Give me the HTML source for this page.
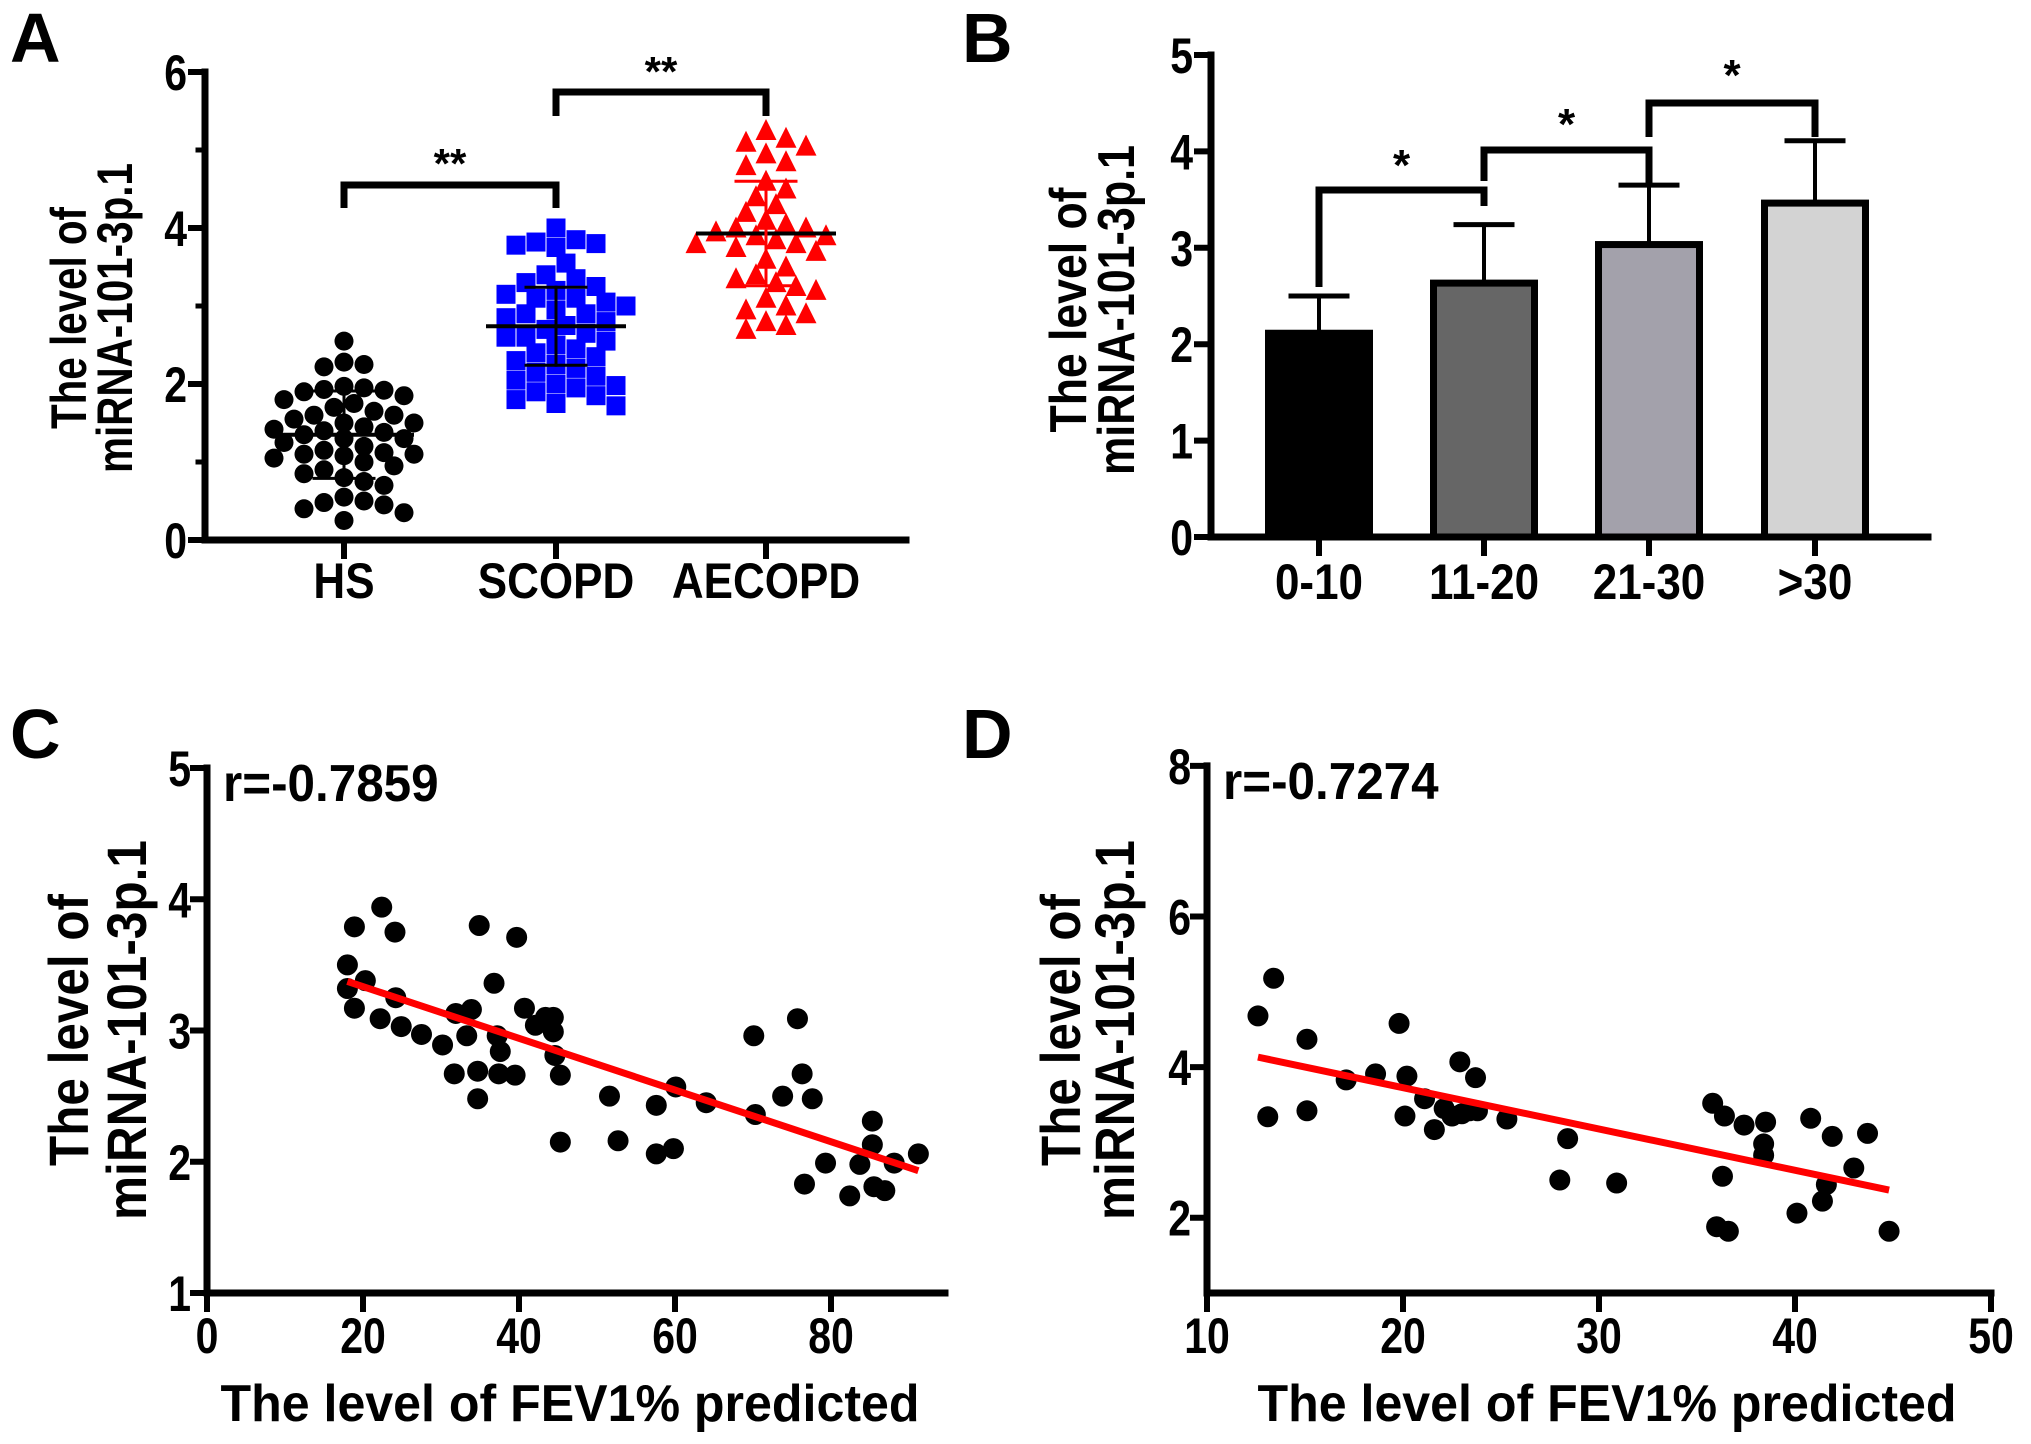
<!DOCTYPE html>
<html><head><meta charset="utf-8"><style>
html,body{margin:0;padding:0;background:#fff;}
svg{display:block;}
text{font-family:"Liberation Sans",Arial,sans-serif;font-weight:bold;fill:#000;}
</style></head>
<body>
<svg id="fig" xmlns="http://www.w3.org/2000/svg" width="2031" height="1444" viewBox="0 0 2031 1444">
<rect width="2031" height="1444" fill="#fff"/>
<text x="10" y="62" font-size="70">A</text>
<text x="962" y="62" font-size="70">B</text>
<text x="10" y="758" font-size="70">C</text>
<text x="962" y="758" font-size="70">D</text>
</svg>
<script>
// ---------- Panel A data ----------
const aCategories = ['HS','SCOPD','AECOPD'];
const aHS = [2.55,2.28,2.25,2.22,1.97,1.95,1.93,1.92,1.9,1.85,1.8,1.75,1.7,1.65,1.6,1.55,1.5,1.45,1.42,1.4,1.38,1.35,1.3,1.25,1.2,1.15,1.12,1.1,1.08,1.05,1.0,0.95,0.9,0.85,0.8,0.75,0.7,0.55,0.5,0.48,0.45,0.4,0.35,0.25,1.5,1.3,1.1,1.6];
const aSCOPD = [4.0,3.85,3.82,3.8,3.78,3.75,3.55,3.4,3.35,3.3,3.25,3.2,3.15,3.1,3.05,3.0,2.95,2.9,2.85,2.8,2.75,2.7,2.65,2.6,2.55,2.5,2.45,2.4,2.35,2.3,2.25,2.2,2.15,2.1,2.05,2.0,1.98,1.95,1.9,1.85,1.8,1.75,1.72,2.9,3.1,2.6];
const aAECOPD = [5.25,5.15,5.1,5.05,4.95,4.85,4.8,4.6,4.5,4.4,4.3,4.2,4.1,4.05,4.0,3.95,3.9,3.85,3.8,3.75,3.7,3.6,3.5,3.4,3.35,3.3,3.25,3.2,3.1,3.0,2.95,2.9,2.8,2.75,2.7,3.9,4.0,3.8];
const aMean = [1.35,2.74,3.93];
const aSD = [0.56,0.5,0.67];
const aTicks = [0,2,4,6];
// ---------- Panel B data ----------
const bCategories = ['0-10','11-20','21-30','>30'];
const bValues = [2.15,2.67,3.07,3.5];
const bErrors = [0.35,0.57,0.58,0.61];
const bTicks = [0,1,2,3,4,5];
// ---------- Panel C data ----------
const cX = [18.0,18.9,22.4,24.1,18.0,20.3,18.9,24.2,22.2,24.9,27.5,30.2,31.9,33.9,33.3,31.7,34.7,34.7,34.9,36.8,37.2,37.6,37.4,39.7,39.5,40.7,42.1,43.4,44.4,44.4,44.6,45.3,45.3,51.6,52.7,57.6,57.6,59.8,60.1,64.0,70.1,70.3,73.8,75.7,76.3,77.6,76.6,79.3,82.4,83.7,85.3,85.3,85.5,86.9,88.1,91.2];
const cY = [3.50,3.79,3.94,3.75,3.32,3.38,3.17,3.25,3.09,3.03,2.97,2.89,3.13,3.16,2.96,2.67,2.69,2.48,3.80,3.36,2.96,2.84,2.67,3.71,2.66,3.17,3.04,3.10,3.10,2.99,2.81,2.66,2.15,2.50,2.16,2.43,2.06,2.10,2.57,2.45,2.96,2.36,2.50,3.09,2.67,2.48,1.83,1.99,1.74,1.98,2.31,2.13,1.81,1.78,1.99,2.06];
const cXTicks = [0,20,40,60,80];
const cYTicks = [1,2,3,4,5];
const cR = 'r=-0.7859';
// ---------- Panel D data ----------
const dX = [12.6,13.4,13.1,15.1,15.1,17.1,18.6,19.8,20.2,20.1,21.1,21.6,22.1,22.5,22.9,23.0,23.4,23.7,23.8,25.3,28.0,28.4,30.9,35.8,36.4,36.3,36.0,36.6,37.4,38.5,38.4,38.4,40.1,40.8,41.4,41.6,41.9,43.0,43.7,44.8];
const dY = [4.68,5.18,3.34,4.37,3.42,3.83,3.91,4.58,3.88,3.35,3.58,3.17,3.45,3.35,4.07,3.38,3.42,3.86,3.42,3.31,2.50,3.05,2.46,3.52,3.35,2.55,1.88,1.82,3.23,3.27,2.98,2.83,2.06,3.32,2.22,2.44,3.08,2.66,3.12,1.82];
const dXTicks = [10,20,30,40,50];
const dYTicks = [2,4,6,8];
const dR = 'r=-0.7274';

const NS='http://www.w3.org/2000/svg';
const svg=document.getElementById('fig');
function mk(tag,attrs,parent){const e=document.createElementNS(NS,tag);for(const k in attrs)e.setAttribute(k,attrs[k]);(parent||svg).appendChild(e);return e;}
function txt(x,y,s,size,anchor,parent,squeeze){
  const t=mk('text',{x:x,y:y,'font-size':size,'text-anchor':anchor||'middle'},parent);t.textContent=s;
  if(squeeze){const w=t.getComputedTextLength();if(w>0){t.setAttribute('textLength',w*squeeze);t.setAttribute('lengthAdjust','spacingAndGlyphs');}}
  return t;}
function yTitle(bx1,bx2,cy,parent,fs,l1,l2){
  const g=mk('g',{},parent);
  
  
  const t1=mk('text',{x:0,y:0,'font-size':fs,'text-anchor':'middle',textLength:l1,lengthAdjust:'spacingAndGlyphs',transform:`translate(${bx1},${cy}) rotate(-90)`},g);t1.textContent='The level of';
  const t2=mk('text',{x:0,y:0,'font-size':fs,'text-anchor':'middle',textLength:l2,lengthAdjust:'spacingAndGlyphs',transform:`translate(${bx2},${cy}) rotate(-90)`},g);t2.textContent='miRNA-101-3p.1';
}
function line(x1,y1,x2,y2,w,parent,col){return mk('line',{x1:x1,y1:y1,x2:x2,y2:y2,stroke:col||'#000','stroke-width':w,'stroke-linecap':'square'},parent);}
function bracket(x1,x2,yTop,y1b,y2b,parent){
  return mk('path',{d:`M${x1},${y1b} V${yTop} H${x2} V${y2b}`,fill:'none',stroke:'#000','stroke-width':7},parent);
}

// ================= Panel A =================
(function(){
  const g=mk('g',{});
  
  
  const X0=205,Y0=540,K=78,xEnd=906;
  const y=v=>Y0-v*K;
  const cx=[344,556,766];
  yTitle(86,132,318,g,50,222,310);
  const ax=mk('g',{},g);
  
  
  line(X0,y(6),X0,Y0,7,ax);
  aTicks.forEach(t=>{line(X0-14,y(t),X0,y(t),6,ax);const l=txt(X0-18,y(t)+18,String(t),50,'end',ax,0.82);});
  [1,3,5].forEach(t=>line(X0-7,y(t),X0,y(t),5,ax));
  const xa=mk('g',{},g);
  
  
  line(X0,Y0,xEnd,Y0,7,xa);
  aCategories.forEach((c,i)=>{line(cx[i],Y0,cx[i],Y0+16,6,xa);const l=txt(cx[i],Y0+58,c,50,'middle',xa,0.88);});
  const series=[aHS,aSCOPD,aAECOPD],cols=['#000','#0000ff','#ff0000'],shapes=['circle','square','triangle'];
  const S=19;
  series.forEach((vals,i)=>{
    const sg=mk('g',{},g);
    
    
    const order=vals.map((v,j)=>j).sort((a,b)=>vals[b]-vals[a]);
    const placed=[];
    order.forEach(j=>{
      const py=y(vals[j]);let best=0,bestOv=1e9;
      const cands=[0];for(let k=1;k<=7;k++){cands.push(k*10,-k*10);}
      for(const off of cands){let ov=0;for(const p of placed){const d=Math.hypot(p[0]-off,p[1]-py);if(d<S*0.95)ov+=S-d;}if(ov===0){best=off;bestOv=0;break;}if(ov<bestOv){bestOv=ov;best=off;}}
      placed.push([best,py]);
      const px=cx[i]+best;let m;
      if(shapes[i]==='circle')m=mk('circle',{cx:px,cy:py,r:S/2,fill:cols[i]},sg);
      else if(shapes[i]==='square')m=mk('rect',{x:px-S/2,y:py-S/2,width:S,height:S,fill:cols[i]},sg);
      else m=mk('polygon',{points:`${px},${py-S/2-2} ${px+S/2+1},${py+S/2} ${px-S/2-1},${py+S/2}`,fill:cols[i]},sg);
      
      
    });
    const eg=mk('g',{},g);
    
    
    const ec=i===2?'#ff0000':'#000';
    line(cx[i]-68,y(aMean[i]),cx[i]+68,y(aMean[i]),4,eg,'#000');
    line(cx[i],y(aMean[i]-aSD[i]),cx[i],y(aMean[i]+aSD[i]),3,eg,ec);
    line(cx[i]-30,y(aMean[i]+aSD[i]),cx[i]+30,y(aMean[i]+aSD[i]),3,eg,ec);
    line(cx[i]-30,y(aMean[i]-aSD[i]),cx[i]+30,y(aMean[i]-aSD[i]),3,eg,ec);
  });
  const b1=mk('g',{},g);
  
  
  bracket(cx[0],cx[1],185,208,208,b1);txt((cx[0]+cx[1])/2,178,'**',42,'middle',b1);
  const b2=mk('g',{},g);
  
  
  bracket(cx[1],cx[2],92,116,116,b2);txt((cx[1]+cx[2])/2,86,'**',42,'middle',b2);
})();

// ================= Panel B =================
(function(){
  const g=mk('g',{});
  
  
  const X0=1211,Y0=537,K=96.4,xEnd=1928;
  const y=v=>Y0-v*K;
  const cx=[1319,1484,1649,1815],bw=108;
  const fills=['#000000','#666666','#a3a1ab','#d3d3d3'];
  yTitle(1086,1134,310,g,52,245,330);
  bCategories.forEach((c,i)=>{
    const eb=mk('g',{},g);
    
    
    line(cx[i],y(bValues[i]),cx[i],y(bValues[i]+bErrors[i]),4,eb);
    line(cx[i]-28,y(bValues[i]+bErrors[i]),cx[i]+28,y(bValues[i]+bErrors[i]),5,eb);
    const r=mk('rect',{x:cx[i]-bw/2+3.5,y:y(bValues[i])+3.5,width:bw-7,height:bValues[i]*K-3.5,fill:fills[i],stroke:'#000','stroke-width':7},g);
    
    
  });
  const ax=mk('g',{},g);
  
  
  line(X0,y(5),X0,Y0,7,ax);
  bTicks.forEach(t=>{line(X0-14,y(t),X0,y(t),6,ax);const l=txt(X0-18,y(t)+18,String(t),50,'end',ax,0.82);});
  const xa=mk('g',{},g);
  
  
  line(X0,Y0,xEnd,Y0,7,xa);
  bCategories.forEach((c,i)=>{line(cx[i],Y0,cx[i],Y0+16,6,xa);const l=txt(cx[i],Y0+62,c,50,'middle',xa,0.88);});
  const brs=[[0,1,190,287,206,162],[1,2,150,181,183,121],[2,3,103,137,137,72]];
  brs.forEach(b=>{
    const bg=mk('g',{},g);
    
    
    bracket(cx[b[0]],cx[b[1]],b[2],b[3],b[4],bg);
    txt((cx[b[0]]+cx[b[1]])/2,b[5]+18,'*',44,'middle',bg);
  });
})();

// ================= Scatter panels =================
function scatter(name,xs,ys,xTicks,yTicks,X0,Y0,xMin,kx,yMin,ky,xEnd,yMaxV,rLabel,titleX1,titleX2,titleCY,xTitleCX){
  const g=mk('g',{});
  
  
  const sx=v=>X0+(v-xMin)*kx, sy=v=>Y0-(v-yMin)*ky;
  yTitle(titleX1,titleX2,titleCY,g,56,272,380);
  const n=xs.length;let mx=0,my=0;xs.forEach((v,i)=>{mx+=v;my+=ys[i];});mx/=n;my/=n;
  let sxy=0,sxx=0;xs.forEach((v,i)=>{sxy+=(v-mx)*(ys[i]-my);sxx+=(v-mx)*(v-mx);});
  const slope=sxy/sxx,ic=my-slope*mx;
  const x1=Math.min(...xs),x2=Math.max(...xs);
  const pg=mk('g',{},g);
  
  
  xs.forEach((v,i)=>{const c=mk('circle',{cx:sx(v),cy:sy(ys[i]),r:10.5,fill:'#000'},pg);
    
    });
  const rl=line(sx(x1),sy(ic+slope*x1),sx(x2),sy(ic+slope*x2),7,g,'#ff0000');
  rl.setAttribute('stroke-linecap','butt');
  
  
  const ax=mk('g',{},g);
  
  
  line(X0,sy(yMaxV),X0,Y0,7,ax);
  yTicks.forEach(t=>{line(X0-14,sy(t),X0,sy(t),6,ax);const l=txt(X0-16,sy(t)+18,String(t),50,'end',ax,0.82);});
  const xa=mk('g',{},g);
  
  
  line(X0,Y0,xEnd,Y0,7,xa);
  xTicks.forEach(t=>{line(sx(t),Y0,sx(t),Y0+16,6,xa);const l=txt(sx(t),Y0+60,String(t),50,'middle',xa,0.82);});
  const xt=mk('text',{x:xTitleCX,y:1421,'font-size':52,'text-anchor':'middle',textLength:699,lengthAdjust:'spacingAndGlyphs'},g);
  xt.textContent='The level of FEV1% predicted';
  
  
  const r=txt(X0+16,sy(yMaxV)+33,rLabel,52,'start',g,0.95);
  
  
}
scatter('panel-c-scatter',cX,cY,cXTicks,cYTicks,207,1293,0,7.8,1,131.25,945,5,cR,88,146,1030,570);
scatter('panel-d-scatter',dX,dY,dXTicks,dYTicks,1207,1293,10,19.6,1,75.3,1991,8,dR,1080,1134,1030,1607);
</script>
</body></html>
